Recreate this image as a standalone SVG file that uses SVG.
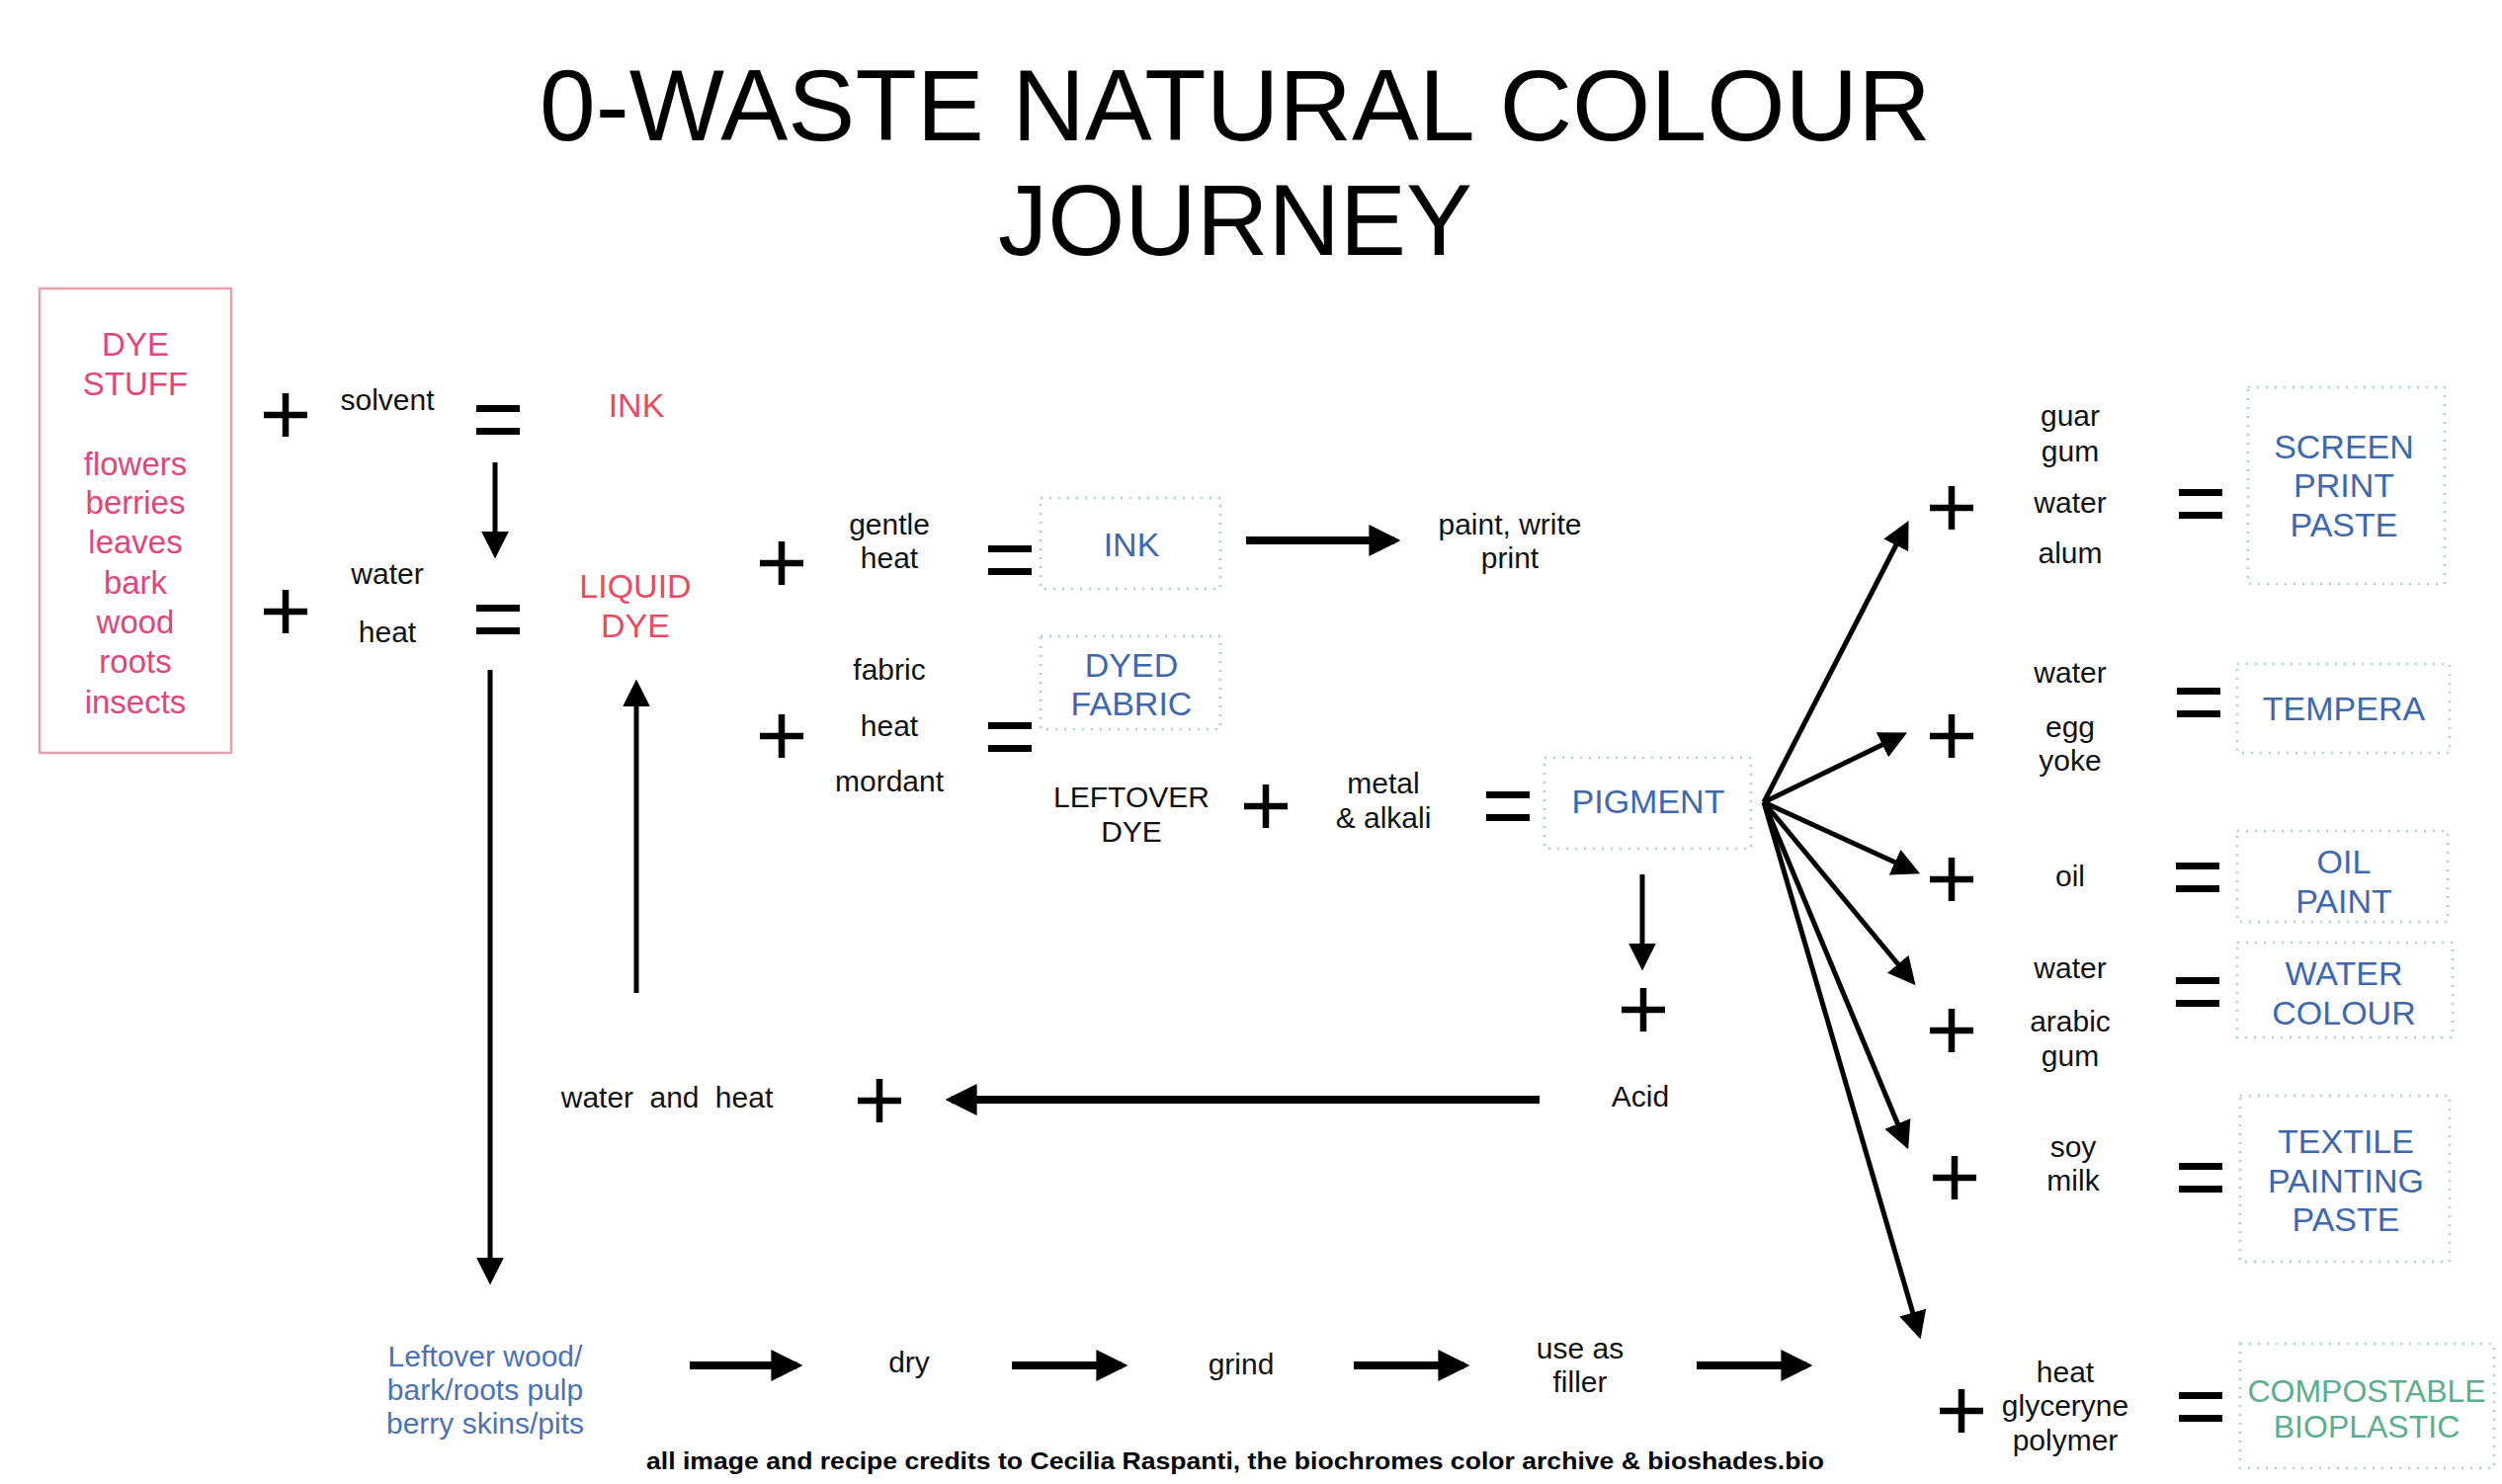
<svg xmlns="http://www.w3.org/2000/svg" width="2532" height="1502" viewBox="0 0 2532 1502">
<defs>
<style>
text{font-family:"Liberation Sans",Arial,sans-serif;text-anchor:middle}
.t{font-size:102px;fill:#000}
.l{font-size:30px;fill:#111}
.pk{font-size:33px;fill:#e0457b}
.rd{font-size:34px;fill:#e84a5f}
.bl{font-size:34px;fill:#3d68b0}
.bk{font-size:30px;fill:#111}
.gr{font-size:32px;fill:#5aae8e}
.lb{font-size:30px;fill:#4a72b4}
.cr{font-size:23px;font-weight:700;fill:#000}
.op{stroke:#000;stroke-width:6.5;fill:none}
.dot{fill:none;stroke:#a9d3d3;stroke-width:2.5;stroke-dasharray:2 7}
.ln{stroke:#000;fill:none}
</style>
<marker id="ah" viewBox="0 0 10 10" refX="8" refY="5" markerUnits="userSpaceOnUse" markerWidth="28" markerHeight="28" orient="auto"><path d="M0,0 L10,5 L0,10 z" fill="#000"/></marker>
<marker id="ahb" viewBox="0 0 10 10" refX="8" refY="5" markerUnits="userSpaceOnUse" markerWidth="32" markerHeight="32" orient="auto"><path d="M0,0 L10,5 L0,10 z" fill="#000"/></marker>
<symbol id="plus" overflow="visible"><path d="M-22,0 H22 M0,-22 V22" class="op"/></symbol>
<symbol id="eq" overflow="visible"><path d="M-22,-11.5 H22 M-22,11.5 H22" stroke="#000" stroke-width="7" fill="none"/></symbol>
</defs>
<rect width="2532" height="1502" fill="#fff"/>

<g id="title">
<text class="t"><tspan x="1250" y="142" textLength="1408" lengthAdjust="spacingAndGlyphs">0-WASTE NATURAL COLOUR</tspan><tspan x="1250" y="258" textLength="480" lengthAdjust="spacingAndGlyphs">JOURNEY</tspan></text>
</g>

<g id="dye-stuff">
<rect x="40" y="292" width="194" height="470" fill="none" stroke="#e8a0a8" stroke-width="2.5"/>
<text class="pk"><tspan x="137" y="360">DYE</tspan><tspan x="137" y="400">STUFF</tspan><tspan x="137" y="481">flowers</tspan><tspan x="137" y="520">berries</tspan><tspan x="137" y="560">leaves</tspan><tspan x="137" y="601">bark</tspan><tspan x="137" y="641">wood</tspan><tspan x="137" y="681">roots</tspan><tspan x="137" y="722">insects</tspan></text>
</g>

<g id="ink-recipe">
<use href="#plus" x="289" y="420"/>
<text class="l" x="392" y="415">solvent</text>
<use href="#eq" x="504" y="425"/>
<text class="rd" x="644" y="422">INK</text>
</g>

<g id="liquid-dye">
<use href="#plus" x="289" y="619"/>
<text class="l"><tspan x="392" y="591">water</tspan><tspan x="392" y="650">heat</tspan></text>
<use href="#eq" x="504" y="627"/>
<text class="rd"><tspan x="643" y="605">LIQUID</tspan><tspan x="643" y="645">DYE</tspan></text>
</g>

<g id="ink-blue">
<use href="#plus" x="791" y="570"/>
<text class="l"><tspan x="900" y="541">gentle</tspan><tspan x="900" y="575">heat</tspan></text>
<use href="#eq" x="1022" y="567"/>
<rect class="dot" x="1053" y="504" width="182" height="92"/>
<text class="bl" x="1145" y="563">INK</text>
<text class="l"><tspan x="1528" y="541">paint, write</tspan><tspan x="1528" y="575">print</tspan></text>
</g>

<g id="dyed-fabric">
<use href="#plus" x="791" y="745"/>
<text class="l"><tspan x="900" y="688">fabric</tspan><tspan x="900" y="745">heat</tspan><tspan x="900" y="801">mordant</tspan></text>
<use href="#eq" x="1022" y="746"/>
<rect class="dot" x="1053" y="644" width="182" height="94"/>
<text class="bl"><tspan x="1145" y="685">DYED</tspan><tspan x="1145" y="724">FABRIC</tspan></text>
</g>

<g id="pigment">
<text class="bk"><tspan x="1145" y="817">LEFTOVER</tspan><tspan x="1145" y="852">DYE</tspan></text>
<use href="#plus" x="1281" y="816"/>
<text class="l"><tspan x="1400" y="803">metal</tspan><tspan x="1400" y="838">&amp; alkali</tspan></text>
<use href="#eq" x="1526" y="816"/>
<rect class="dot" x="1563" y="767" width="209" height="92"/>
<text class="bl" x="1668" y="823">PIGMENT</text>
</g>

<g id="acid">
<use href="#plus" x="1663" y="1022"/>
<text class="l" x="1660" y="1120">Acid</text>
</g>

<g id="water-heat">
<text class="l" x="675" y="1121" word-spacing="8">water and heat</text>
<use href="#plus" x="890" y="1114"/>
</g>

<g id="leftover-pulp">
<text class="lb"><tspan x="491" y="1383">Leftover wood/</tspan><tspan x="491" y="1417">bark/roots pulp</tspan><tspan x="491" y="1451">berry skins/pits</tspan></text>
</g>
<g id="dry"><text class="l" x="920" y="1389">dry</text></g>
<g id="grind"><text class="l" x="1256" y="1391">grind</text></g>
<g id="filler"><text class="l"><tspan x="1599" y="1375">use as</tspan><tspan x="1599" y="1409">filler</tspan></text></g>

<g id="screen-print">
<use href="#plus" x="1975" y="514"/>
<text class="l"><tspan x="2095" y="431">guar</tspan><tspan x="2095" y="467">gum</tspan><tspan x="2095" y="519">water</tspan><tspan x="2095" y="570">alum</tspan></text>
<use href="#eq" x="2227" y="510"/>
<rect class="dot" x="2275" y="392" width="199" height="199"/>
<text class="bl"><tspan x="2372" y="464">SCREEN</tspan><tspan x="2372" y="503">PRINT</tspan><tspan x="2372" y="543">PASTE</tspan></text>
</g>

<g id="tempera">
<use href="#plus" x="1975" y="745"/>
<text class="l"><tspan x="2095" y="691">water</tspan><tspan x="2095" y="746">egg</tspan><tspan x="2095" y="780">yoke</tspan></text>
<use href="#eq" x="2225" y="711"/>
<rect class="dot" x="2264" y="672" width="215" height="90"/>
<text class="bl" x="2372" y="729">TEMPERA</text>
</g>

<g id="oil-paint">
<use href="#plus" x="1975" y="890"/>
<text class="l" x="2095" y="897">oil</text>
<use href="#eq" x="2224" y="888"/>
<rect class="dot" x="2264" y="841" width="213" height="92"/>
<text class="bl"><tspan x="2372" y="884">OIL</tspan><tspan x="2372" y="924">PAINT</tspan></text>
</g>

<g id="water-colour">
<use href="#plus" x="1975" y="1043"/>
<text class="l"><tspan x="2095" y="990">water</tspan><tspan x="2095" y="1044">arabic</tspan><tspan x="2095" y="1079">gum</tspan></text>
<use href="#eq" x="2224" y="1004"/>
<rect class="dot" x="2264" y="954" width="218" height="96"/>
<text class="bl"><tspan x="2372" y="997">WATER</tspan><tspan x="2372" y="1037">COLOUR</tspan></text>
</g>

<g id="textile-paste">
<use href="#plus" x="1978" y="1192"/>
<text class="l"><tspan x="2098" y="1171">soy</tspan><tspan x="2098" y="1205">milk</tspan></text>
<use href="#eq" x="2227" y="1192"/>
<rect class="dot" x="2267" y="1109" width="212" height="168"/>
<text class="bl"><tspan x="2374" y="1167">TEXTILE</tspan><tspan x="2374" y="1207">PAINTING</tspan><tspan x="2374" y="1246">PASTE</tspan></text>
</g>

<g id="bioplastic">
<use href="#plus" x="1985" y="1428"/>
<text class="l"><tspan x="2090" y="1399">heat</tspan><tspan x="2090" y="1433">glyceryne</tspan><tspan x="2090" y="1468">polymer</tspan></text>
<use href="#eq" x="2227" y="1424"/>
<rect class="dot" x="2267" y="1360" width="257" height="126"/>
<text class="gr"><tspan x="2395" y="1419">COMPOSTABLE</tspan><tspan x="2395" y="1455">BIOPLASTIC</tspan></text>
</g>

<g id="credits">
<text class="cr" x="1250" y="1487" textLength="1192" lengthAdjust="spacingAndGlyphs">all image and recipe credits to Cecilia Raspanti, the biochromes color archive &amp; bioshades.bio</text>
</g>

<g id="connectors">
<path class="ln" stroke-width="5" d="M501,468 V560" marker-end="url(#ah)"/>
<path class="ln" stroke-width="5" d="M496,678 V1295" marker-end="url(#ah)"/>
<path class="ln" stroke-width="5" d="M644,1005 V693" marker-end="url(#ah)"/>
<path class="ln" stroke-width="8" d="M1261,547 H1411" marker-end="url(#ahb)"/>
<path class="ln" stroke-width="5" d="M1662,885 V977" marker-end="url(#ah)"/>
<path class="ln" stroke-width="8" d="M1558,1113 H963" marker-end="url(#ahb)"/>
<path class="ln" stroke-width="8" d="M698,1382 H806" marker-end="url(#ahb)"/>
<path class="ln" stroke-width="8" d="M1024,1382 H1135" marker-end="url(#ahb)"/>
<path class="ln" stroke-width="8" d="M1370,1382 H1481" marker-end="url(#ahb)"/>
<path class="ln" stroke-width="8" d="M1717,1382 H1828" marker-end="url(#ahb)"/>
<path class="ln" stroke-width="5" d="M1785,812 L1929,532" marker-end="url(#ah)"/>
<path class="ln" stroke-width="5" d="M1785,812 L1925,744" marker-end="url(#ah)"/>
<path class="ln" stroke-width="5" d="M1785,812 L1938,882" marker-end="url(#ah)"/>
<path class="ln" stroke-width="5" d="M1785,812 L1935,993" marker-end="url(#ah)"/>
<path class="ln" stroke-width="5" d="M1785,812 L1929,1158" marker-end="url(#ah)"/>
<path class="ln" stroke-width="5" d="M1785,812 L1942,1350" marker-end="url(#ah)"/>
</g>
</svg>
